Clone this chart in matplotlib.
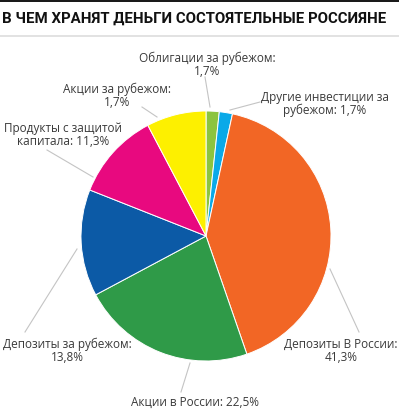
import matplotlib.pyplot as plt
from matplotlib.patches import Rectangle

# slice values as drawn (clockwise from 12 o'clock)
categories = ['Облигации за рубежом', 'Другие инвестиции за рубежом',
              'Депозиты В России', 'Акции в России', 'Депозиты за рубежом',
              'Продукты с защитой капитала', 'Акции за рубежом']
values = [1.7, 1.7, 41.3, 22.5, 13.8, 11.3, 7.7]
colors = ['#8cc43f', '#0aa9e8', '#f26625', '#2f9a48', '#0c5aa6', '#e8097f', '#fdf000']

# label texts as printed on the chart
labels = ['Облигации за рубежом:\n1,7%', 'Другие инвестиции за\nрубежом: 1,7%',
          'Депозиты В России:\n41,3%', 'Акции в России: 22,5%',
          'Депозиты за рубежом:\n13,8%', 'Продукты с защитой\nкапитала: 11,3%',
          'Акции за рубежом:\n1,7%']

W, H = 399, 410
fig = plt.figure(figsize=(W / 100, H / 100), dpi=100)
plt.rcParams['font.family'] = ['Open Sans', 'DejaVu Sans']

# pie centre (206, 237) px, radius 125 px
cx, cy, r = 206, 237, 125
ax = fig.add_axes([(cx - r) / W, (H - cy - r) / H, 2 * r / W, 2 * r / H])
ax.pie(values, colors=colors, startangle=90, counterclock=False, radius=1,
       wedgeprops=dict(edgecolor='white', linewidth=0.7))
ax.set_xlim(-1, 1)
ax.set_ylim(-1, 1)
ax.set_aspect('auto')
ax.axis('off')


def px(x, y):
    return (x - cx) / r, (cy - y) / r


# text centre positions (px) and leader line ends (px)
text_pos = [(207, 65), (325, 104), (341, 351), (195, 402), (67, 351), (63, 135), (117, 96)]
lines = [((210, 108), (205, 78)), ((230, 111), (260, 103)), ((330, 270), (359, 333)),
         ((190, 364), (181, 393)), ((77, 250), (25, 333)), ((93, 178), (47, 151)),
         ((157, 118), (142, 108))]

for lab, (tx, ty), (p0, p1) in zip(labels, text_pos, lines):
    x0, y0 = px(*p0)
    x1, y1 = px(*p1)
    ax.plot([x0, x1], [y0, y1], color='#c4c4c4', lw=0.8, clip_on=False)
    ax.text(*px(tx, ty), lab, ha='center', va='center', fontsize=8.5,
            color='#3a3a3a', linespacing=1.0, clip_on=False)

# header
fig.add_artist(Rectangle((0, 1 - 3 / H), 1, 3 / H, transform=fig.transFigure,
                         color='#1a1a1a', lw=0))
fig.add_artist(plt.Line2D([0, 1], [1 - 37 / H, 1 - 37 / H], transform=fig.transFigure,
                          color='#dddddd', lw=1.2))
fig.text(2 / W, 1 - 19 / H, 'В ЧЕМ ХРАНЯТ ДЕНЬГИ СОСТОЯТЕЛЬНЫЕ РОССИЯНЕ',
         ha='left', va='center', fontsize=10.8, fontweight='bold', color='#111111',
         family=['Roboto', 'DejaVu Sans'])

fig.savefig('out.png', dpi=100)
